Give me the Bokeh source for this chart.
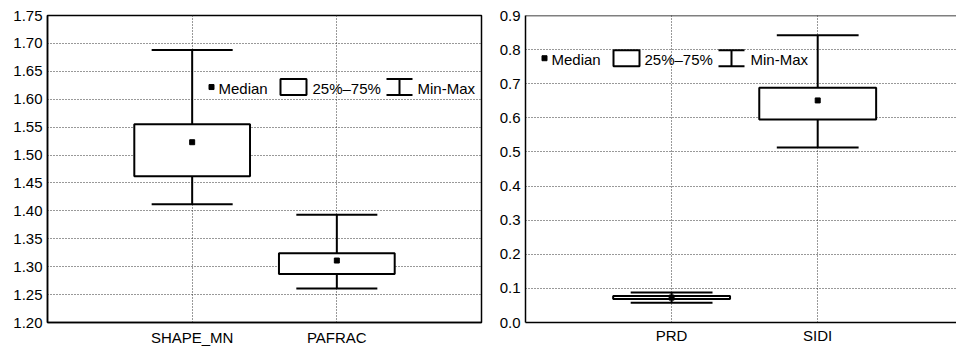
from bokeh.plotting import figure
from bokeh.layouts import row
from bokeh.models import FixedTicker, Span, PrintfTickFormatter, Range1d, ColumnDataSource
from bokeh.core.properties import value
from bokeh.embed import file_html
from bokeh.resources import INLINE

# ---- data ----
left_categories = ["SHAPE_MN", "PAFRAC"]
left_min = [1.412, 1.261]
left_q1 = [1.462, 1.287]
left_median = [1.523, 1.311]
left_q3 = [1.555, 1.324]
left_max = [1.688, 1.393]
left_yticks = [1.20, 1.25, 1.30, 1.35, 1.40, 1.45, 1.50, 1.55, 1.60, 1.65, 1.70, 1.75]

right_categories = ["PRD", "SIDI"]
right_min = [0.058, 0.513]
right_q1 = [0.069, 0.595]
right_median = [0.073, 0.651]
right_q3 = [0.078, 0.688]
right_max = [0.088, 0.842]
right_yticks = [0.0, 0.1, 0.2, 0.3, 0.4, 0.5, 0.6, 0.7, 0.8, 0.9]

legend_labels = ["Median", "25%\u201375%", "Min-Max"]

FONT = "Liberation Sans"
HEIGHT = 348
BOX_HALF = 0.4
CAP_HALF = 0.28


def make_panel(cats, mins, q1s, meds, q3s, maxs, yticks, fmt, width, bl, br,
               bt, bb, standoff, x_end, leg, outline_full):
    fw = width - bl - br
    fh = HEIGHT - bt - bb
    y0, y1 = yticks[0], yticks[-1]
    p = figure(width=width, height=HEIGHT, x_range=Range1d(0, x_end),
               y_range=Range1d(y0, y1), output_backend="svg",
               toolbar_location=None, min_border_left=bl, min_border_right=br,
               min_border_top=bt, min_border_bottom=bb)
    p.background_fill_color = "white"
    p.border_fill_color = "white"
    xs = [i + 1 for i in range(len(cats))]

    # axes
    p.xaxis.ticker = FixedTicker(ticks=xs)
    p.xaxis.major_label_overrides = {float(x): c for x, c in zip(xs, cats)}
    p.yaxis.ticker = FixedTicker(ticks=yticks)
    p.yaxis.formatter = PrintfTickFormatter(format=fmt)
    for ax in (p.xaxis, p.yaxis):
        ax.major_tick_line_color = None
        ax.minor_tick_line_color = None
        ax.major_tick_out = 0
        ax.major_tick_in = 0
        ax.minor_tick_out = 0
        ax.minor_tick_in = 0
        ax.axis_line_color = "black"
        ax.axis_line_width = 1.5
        ax.major_label_text_font = FONT
        ax.major_label_text_color = "black"
    p.yaxis.major_label_text_font_size = "15px"
    p.yaxis.major_label_standoff = 5
    p.xaxis.major_label_text_font_size = "15px"
    p.xaxis.major_label_standoff = standoff

    # grid
    p.xgrid.ticker = FixedTicker(ticks=xs)
    p.ygrid.ticker = FixedTicker(ticks=yticks)
    for g in (p.xgrid, p.ygrid):
        g.grid_line_color = "#333333"
        g.grid_line_dash = "1 2"
        g.grid_line_width = 1

    if outline_full:
        p.outline_line_color = "black"
        p.outline_line_width = 1.5
    else:
        p.outline_line_color = None
        p.add_layout(Span(location=y1, dimension="width", line_color="black",
                          line_width=1.5))

    src = ColumnDataSource(dict(
        x=xs, mn=mins, q1=q1s, med=meds, q3=q3s, mx=maxs,
        l=[x - BOX_HALF for x in xs], r=[x + BOX_HALF for x in xs],
        cl=[x - CAP_HALF for x in xs], cr=[x + CAP_HALF for x in xs]))
    kw = dict(line_color="black", line_width=2)
    p.segment(x0="x", y0="q3", x1="x", y1="mx", source=src, **kw)
    p.segment(x0="x", y0="q1", x1="x", y1="mn", source=src, **kw)
    p.segment(x0="cl", y0="mx", x1="cr", y1="mx", source=src, **kw)
    p.segment(x0="cl", y0="mn", x1="cr", y1="mn", source=src, **kw)
    p.quad(left="l", right="r", bottom="q1", top="q3", source=src,
           fill_color="white", **kw)
    p.scatter(x="x", y="med", source=src, marker="square", size=5,
              color="black")

    # legend (layout in px relative to the frame)
    def dx(px):
        return px / fw * x_end

    def dy(py):
        return y1 - py / fh * (y1 - y0)

    yc = leg["yc"]
    p.scatter(x=[dx(leg["marker"])], y=[dy(yc)], marker="square",
              size=5, color="black")
    bx0, bx1 = leg["box"]
    p.quad(left=[dx(bx0)], right=[dx(bx1)], bottom=[dy(yc + 8)],
           top=[dy(yc - 8)], fill_color="white", **kw)
    wx0, wx1 = leg["whisk"]
    wm = (wx0 + wx1) / 2
    p.segment(x0=[dx(wx0), dx(wx0), dx(wm)],
              y0=[dy(yc - 8), dy(yc + 8), dy(yc - 8)],
              x1=[dx(wx1), dx(wx1), dx(wm)],
              y1=[dy(yc - 8), dy(yc + 8), dy(yc + 8)],
              **kw)
    p.text(x=[dx(t) for t in leg["texts"]], y=[dy(yc + 1)] * 3,
           text=legend_labels, text_font=value(FONT), text_font_size="15px",
           text_baseline="middle", text_align="left", text_color="black")
    return p


p1 = make_panel(left_categories, left_min, left_q1, left_median, left_q3,
                left_max, left_yticks, "%.2f", 488, 47, 7, 13, 26, 6, 3.0,
                dict(marker=164, yc=72, box=(233, 259), whisk=(339, 365),
                     texts=[171, 265, 370]),
                True)
p2 = make_panel(right_categories, right_min, right_q1, right_median, right_q3,
                right_max, right_yticks, "%.1f", 468, 37, 0, 15, 24, 4, 2.95,
                dict(marker=19, yc=43, box=(88, 114), whisk=(193, 219),
                     texts=[26, 119, 225]),
                False)

layout = row(p1, p2)
open("out.html", "w").write(file_html(layout, INLINE))
